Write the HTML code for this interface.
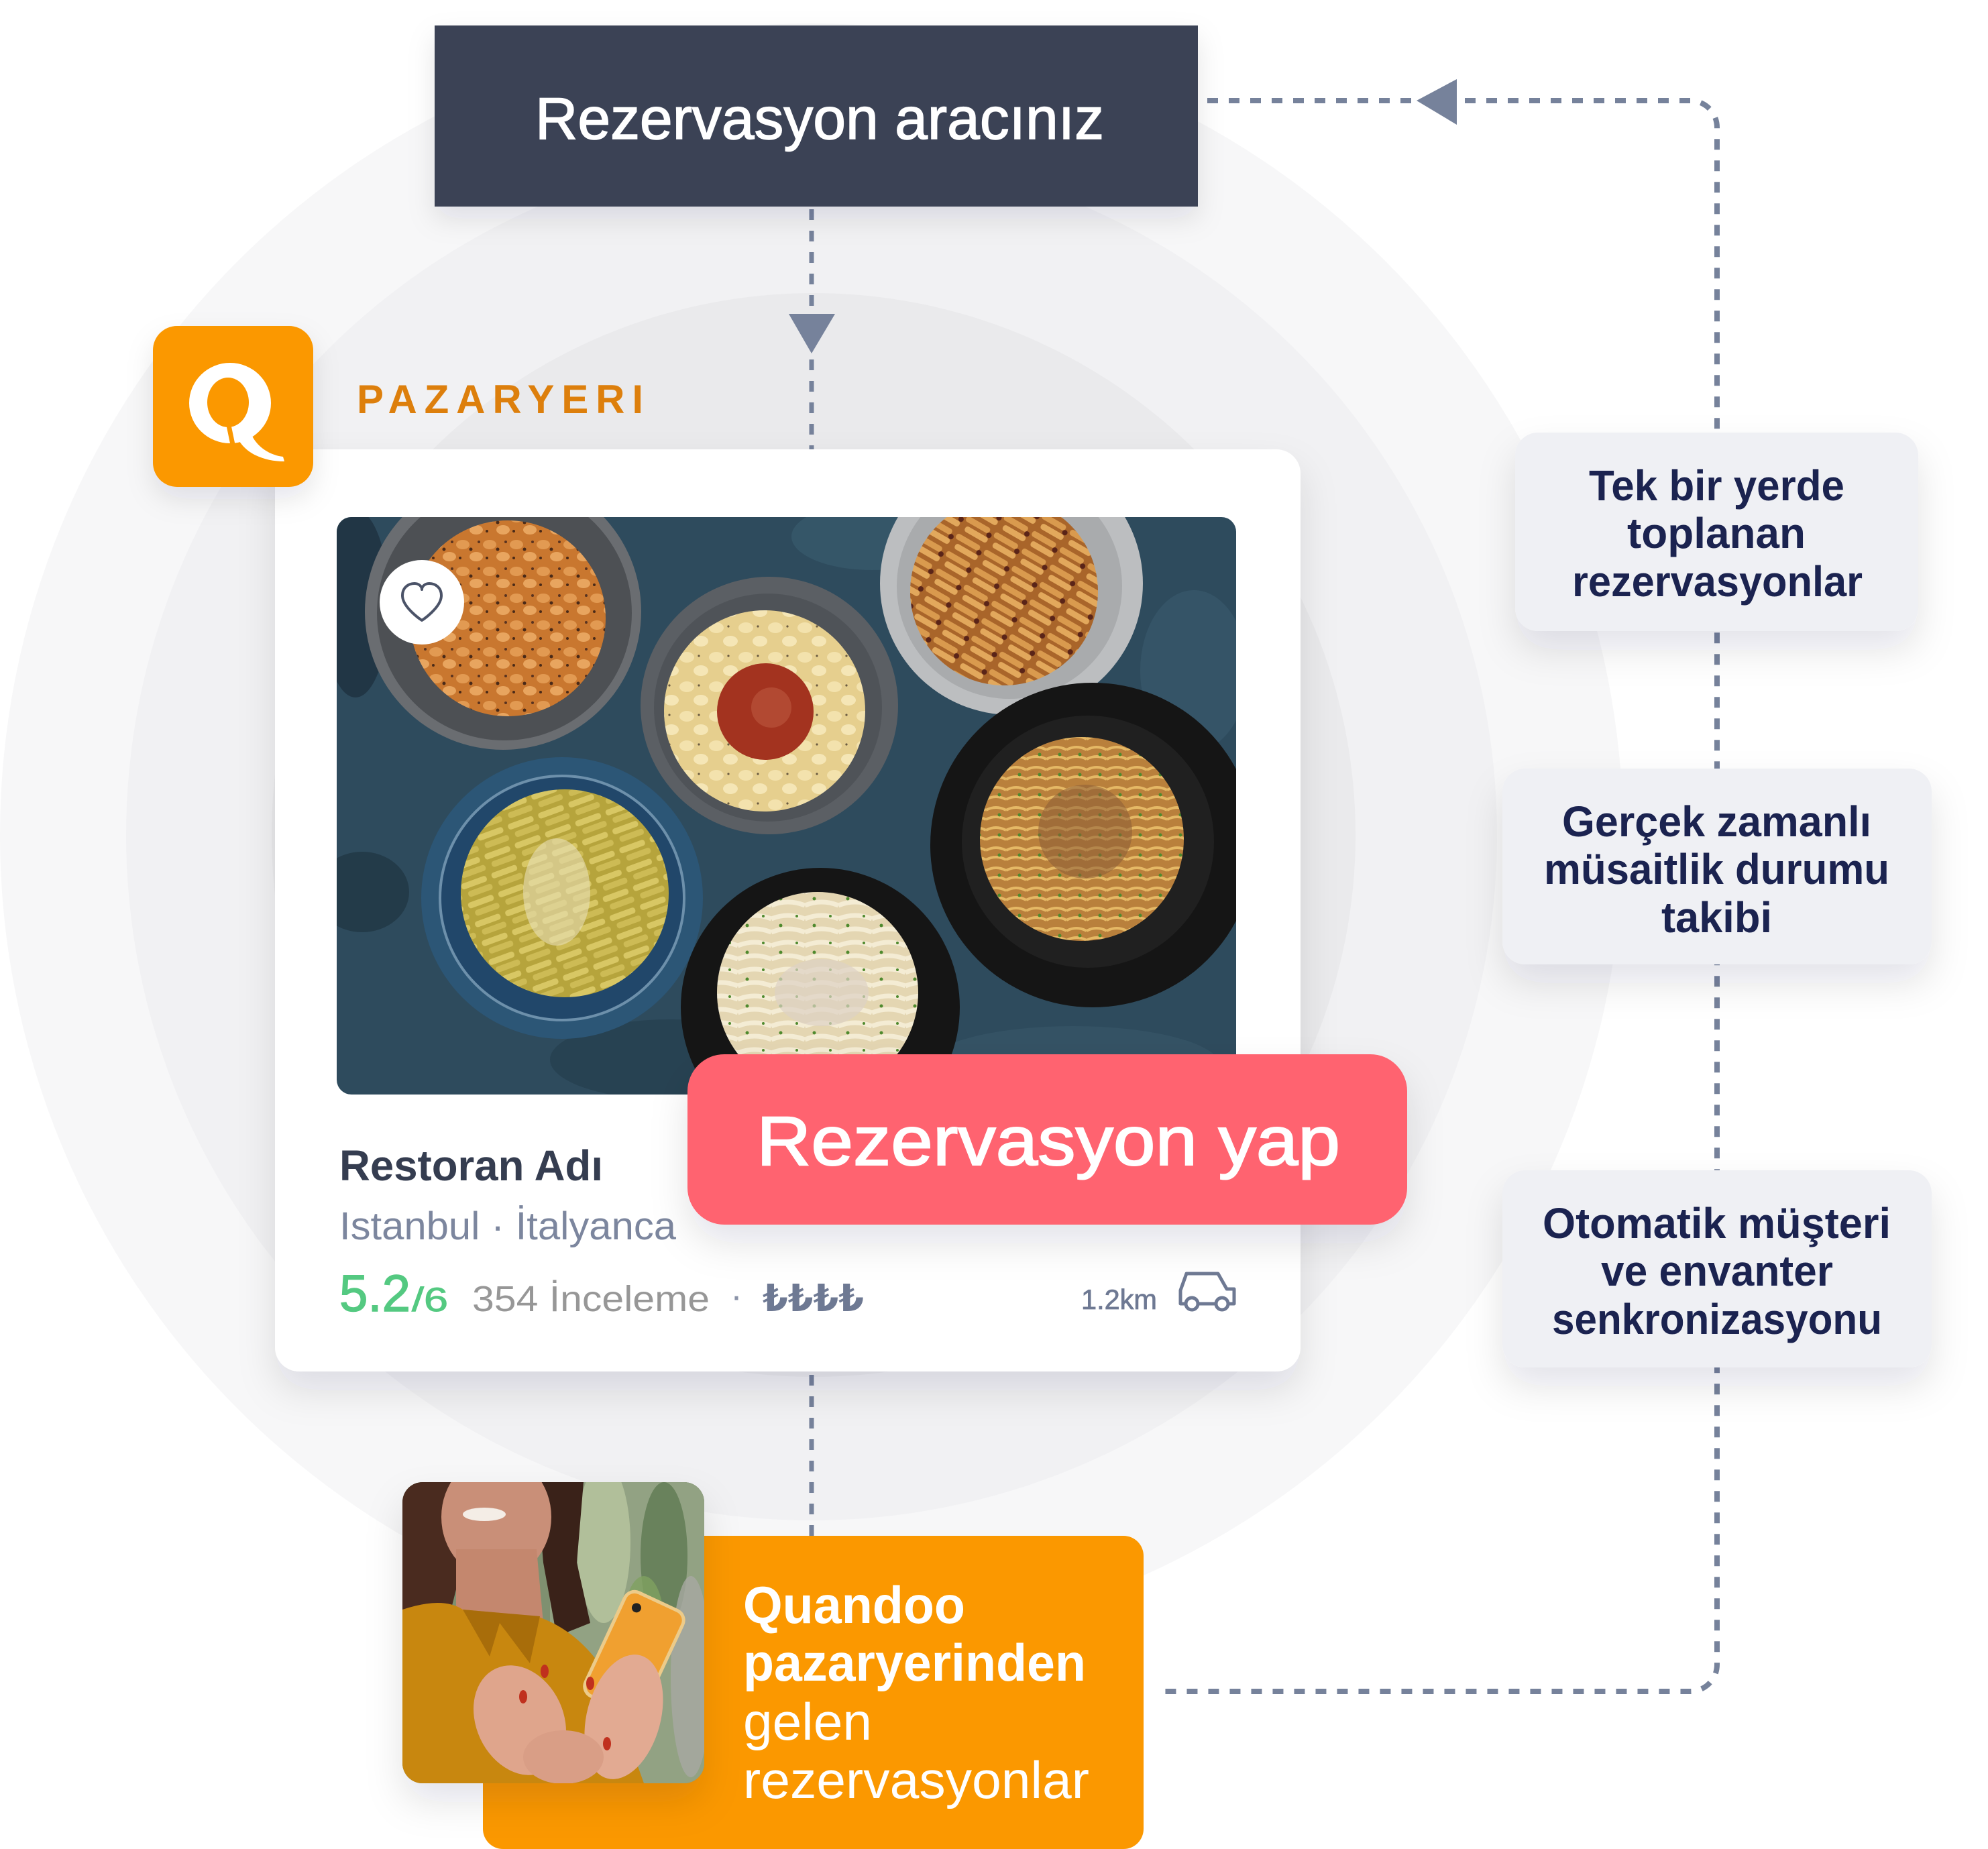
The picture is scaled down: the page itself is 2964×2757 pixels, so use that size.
<!DOCTYPE html>
<html><head><meta charset="utf-8">
<style>
html,body{margin:0;padding:0;background:#fff;}
svg{display:block;}
text{font-family:"Liberation Sans","DejaVu Sans",sans-serif;}
</style></head>
<body>
<svg width="2964" height="2757" viewBox="0 0 2964 2757" xmlns="http://www.w3.org/2000/svg">
<defs>
  <filter id="sh" x="-20%" y="-20%" width="140%" height="160%">
    <feDropShadow dx="0" dy="28" stdDeviation="28" flood-color="#1c2340" flood-opacity="0.11"/>
  </filter>
  <filter id="shs" x="-20%" y="-20%" width="140%" height="160%">
    <feDropShadow dx="0" dy="18" stdDeviation="20" flood-color="#1c2340" flood-opacity="0.10"/>
  </filter>
  <clipPath id="imgclip"><rect x="502" y="771" width="1341" height="861" rx="22"/></clipPath>
  <clipPath id="photoclip"><rect x="600" y="2210" width="450" height="449" rx="30"/></clipPath>
  <pattern id="pShell" width="40" height="40" patternUnits="userSpaceOnUse">
    <rect width="40" height="40" fill="#c9772f"/>
    <ellipse cx="10" cy="12" rx="10" ry="7" fill="#e29a52"/>
    <ellipse cx="30" cy="30" rx="10" ry="7" fill="#e8a55f"/>
    <circle cx="22" cy="19" r="2.5" fill="#4a2a18"/>
    <circle cx="6" cy="32" r="2" fill="#4a2a18"/>
    <circle cx="34" cy="8" r="2" fill="#5a3320"/>
  </pattern>
  <pattern id="pCream" width="44" height="44" patternUnits="userSpaceOnUse">
    <rect width="44" height="44" fill="#e6cf8e"/>
    <ellipse cx="12" cy="12" rx="11" ry="8" fill="#f3e2ad"/>
    <ellipse cx="33" cy="32" rx="11" ry="8" fill="#f5e6b6"/>
    <circle cx="30" cy="10" r="1.6" fill="#6a5a40"/>
  </pattern>
  <pattern id="pPenne" width="48" height="30" patternUnits="userSpaceOnUse" patternTransform="rotate(-20)">
    <rect width="48" height="30" fill="#b6a43c"/>
    <rect x="2" y="4" width="40" height="9" rx="4" fill="#d8c764"/>
    <rect x="8" y="18" width="38" height="9" rx="4" fill="#cdbb55"/>
  </pattern>
  <pattern id="pPenne2" width="48" height="30" patternUnits="userSpaceOnUse" patternTransform="rotate(30)">
    <rect width="48" height="30" fill="#a9652a"/>
    <rect x="2" y="4" width="40" height="9" rx="4" fill="#d99a4e"/>
    <rect x="8" y="18" width="38" height="9" rx="4" fill="#e2a85c"/>
    <circle cx="44" cy="14" r="4" fill="#5a2418"/>
  </pattern>
  <pattern id="pSpag" width="30" height="30" patternUnits="userSpaceOnUse">
    <rect width="30" height="30" fill="#b9803c"/>
    <path d="M0 8 Q15 0 30 8 M0 22 Q15 14 30 22" stroke="#e5b865" stroke-width="4" fill="none"/>
    <circle cx="20" cy="15" r="2.5" fill="#4f8a2e"/>
  </pattern>
  <pattern id="pTag" width="50" height="40" patternUnits="userSpaceOnUse">
    <rect width="50" height="40" fill="#e4d6b2"/>
    <path d="M0 10 Q25 0 50 10 M0 30 Q25 20 50 30" stroke="#f4ecd4" stroke-width="7" fill="none"/>
    <circle cx="14" cy="20" r="2.5" fill="#4f8a2e"/>
    <circle cx="38" cy="6" r="2" fill="#4f8a2e"/>
  </pattern>
</defs>

<!-- background circles -->
<circle cx="1210" cy="1245" r="1210" fill="#f7f7f8"/>
<circle cx="1210" cy="1245" r="1022" fill="#f1f1f3"/>
<circle cx="1213" cy="1245" r="808" fill="#eaeaec"/>

<!-- connectors -->
<g stroke="#76829b" fill="none" stroke-dasharray="16 16">
  <path d="M1800 150 H2520 A40 40 0 0 1 2560 190 V2482 A40 40 0 0 1 2520 2522 H1722" stroke-width="8"/>
  <path d="M1210 312 V670" stroke-width="7"/>
  <path d="M1210 2050 V2290" stroke-width="7"/>
</g>
<polygon points="2112,150 2172,118 2172,186" fill="#76829b"/>
<polygon points="1176,468 1245,468 1210,527" fill="#76829b"/>

<!-- top dark box -->
<rect x="648" y="38" width="1138" height="270" fill="#3b4354" filter="url(#shs)"/>
<text x="798" y="207" font-size="88" fill="#ffffff" stroke="#ffffff" stroke-width="1.5" textLength="848" lengthAdjust="spacingAndGlyphs">Rezervasyon aracınız</text>

<text x="532" y="616" font-size="60" font-weight="bold" fill="#dd7f0c" textLength="427" lengthAdjust="spacing">PAZARYERI</text>

<!-- card -->
<rect x="410" y="670" width="1529" height="1375" rx="36" fill="#ffffff" filter="url(#sh)"/>

<!-- Q logo (above card) -->
<rect x="228" y="486" width="239" height="240" rx="36" fill="#fb9800" filter="url(#shs)"/>
<ellipse cx="343" cy="601" rx="61" ry="60" fill="#ffffff"/>
<ellipse cx="340" cy="600" rx="31" ry="37" fill="#fb9800"/>
<path d="M341 634 L347 663" stroke="#fb9800" stroke-width="7"/>
<path d="M352 648 C362 675 392 688 424 688 L422 681 C398 678 378 662 372 640 Z" fill="#ffffff"/>

<!-- food image -->
<g clip-path="url(#imgclip)">
  <rect x="502" y="771" width="1341" height="861" fill="#2e4b5d"/>
  <ellipse cx="530" cy="900" rx="50" ry="140" fill="#1e3140" opacity="0.8"/>
  <ellipse cx="540" cy="1330" rx="70" ry="60" fill="#1f3442" opacity="0.7"/>
  <ellipse cx="1000" cy="1580" rx="180" ry="60" fill="#253f4f" opacity="0.7"/>
  <ellipse cx="1300" cy="800" rx="120" ry="50" fill="#3a5d70" opacity="0.6"/>
  <ellipse cx="1780" cy="1000" rx="80" ry="120" fill="#3b5e71" opacity="0.5"/>
  <ellipse cx="1600" cy="1590" rx="220" ry="60" fill="#3a5a6c" opacity="0.5"/>

  <!-- plate 1 -->
  <circle cx="750" cy="912" r="206" fill="#6a6d71"/>
  <circle cx="752" cy="914" r="190" fill="#4d5054"/>
  <circle cx="757" cy="922" r="146" fill="url(#pShell)"/>
  <!-- plate 2 -->
  <circle cx="1147" cy="1052" r="192" fill="#5b5f64"/>
  <circle cx="1145" cy="1055" r="170" fill="#4f5358"/>
  <circle cx="1140" cy="1060" r="150" fill="url(#pCream)"/>
  <circle cx="1141" cy="1061" r="72" fill="#a3331f"/>
  <circle cx="1150" cy="1055" r="30" fill="#b8523a" opacity="0.7"/>
  <!-- plate 3 -->
  <circle cx="1508" cy="870" r="196" fill="#bcbec0"/>
  <circle cx="1505" cy="874" r="168" fill="#a9abad"/>
  <circle cx="1497" cy="882" r="140" fill="url(#pPenne2)"/>
  <!-- plate 4 -->
  <circle cx="838" cy="1339" r="210" fill="#2c5676"/>
  <circle cx="838" cy="1339" r="182" fill="#21476a" stroke="#6d90ab" stroke-width="4"/>
  <circle cx="842" cy="1332" r="155" fill="url(#pPenne)"/>
  <ellipse cx="830" cy="1330" rx="50" ry="80" fill="#e7dfb8" opacity="0.6"/>
  <!-- plate 5 -->
  <circle cx="1629" cy="1260" r="242" fill="#151515"/>
  <circle cx="1622" cy="1255" r="188" fill="#202020"/>
  <circle cx="1613" cy="1251" r="152" fill="url(#pSpag)"/>
  <circle cx="1618" cy="1240" r="70" fill="#8c5d36" opacity="0.55"/>
  <!-- plate 6 -->
  <circle cx="1223" cy="1502" r="208" fill="#151515"/>
  <circle cx="1219" cy="1480" r="150" fill="url(#pTag)"/>
  <ellipse cx="1225" cy="1480" rx="70" ry="50" fill="#ddd2c4" opacity="0.7"/>
</g>

<!-- heart -->
<circle cx="629" cy="898" r="63" fill="#ffffff"/>
<path d="M629 925 C629 925 600 906 600 888 C600 876 609 870 618 870 C624 870 629 874 629 879 C629 874 634 870 640 870 C649 870 658 876 658 888 C658 906 629 925 629 925 Z" fill="none" stroke="#4b5368" stroke-width="4" stroke-linejoin="round"/>

<!-- card texts -->
<text x="506" y="1760" font-size="64" font-weight="bold" fill="#353d50" textLength="393" lengthAdjust="spacingAndGlyphs">Restoran Adı</text>
<text x="506" y="1848" font-size="58" fill="#7c869e" textLength="502" lengthAdjust="spacingAndGlyphs">Istanbul · İtalyanca</text>
<text x="506" y="1955" font-size="77" fill="#54c981" stroke="#54c981" stroke-width="1.5" textLength="106" lengthAdjust="spacingAndGlyphs">5.2</text>
<text x="614" y="1955" font-size="50" fill="#54c981" stroke="#54c981" stroke-width="1" textLength="54" lengthAdjust="spacingAndGlyphs">/6</text>
<text x="704" y="1955" font-size="54" fill="#979797" textLength="354" lengthAdjust="spacingAndGlyphs">354 İnceleme</text>
<text x="1089" y="1950" font-size="54" fill="#8a93a8">·</text>
<text x="1137" y="1955" font-size="56" font-weight="bold" fill="#6e7993" textLength="151" lengthAdjust="spacingAndGlyphs">₺₺₺₺</text>
<text x="1612" y="1952" font-size="42" fill="#6e7993" stroke="#6e7993" stroke-width="0.8" textLength="113" lengthAdjust="spacingAndGlyphs">1.2km</text>
<g fill="none" stroke="#6e7993" stroke-width="5" stroke-linejoin="round">
  <path d="M1766 1944 H1760 V1924 L1769 1899 H1816 L1829 1922 H1840 V1944 H1833 M1812 1944 H1788"/>
  <circle cx="1777" cy="1944" r="9"/>
  <circle cx="1822" cy="1944" r="9"/>
</g>

<!-- button -->
<rect x="1025" y="1572" width="1073" height="254" rx="55" fill="#ff6470" filter="url(#sh)"/>
<text x="1128" y="1737" font-size="104" fill="#ffffff" stroke="#ffffff" stroke-width="2" textLength="870" lengthAdjust="spacingAndGlyphs">Rezervasyon yap</text>

<!-- right boxes -->
<rect x="2259" y="645" width="601" height="296" rx="34" fill="#eff0f4" filter="url(#sh)"/>
<rect x="2240" y="1146" width="640" height="292" rx="34" fill="#eff0f4" filter="url(#sh)"/>
<rect x="2240" y="1745" width="640" height="294" rx="34" fill="#eff0f4" filter="url(#sh)"/>
<g font-size="64" font-weight="bold" fill="#1b2350">
  <text x="2369" y="746" textLength="381" lengthAdjust="spacingAndGlyphs">Tek bir yerde</text>
  <text x="2426" y="817" textLength="266" lengthAdjust="spacingAndGlyphs">toplanan</text>
  <text x="2344" y="889" textLength="433" lengthAdjust="spacingAndGlyphs">rezervasyonlar</text>
  <text x="2329" y="1247" textLength="461" lengthAdjust="spacingAndGlyphs">Gerçek zamanlı</text>
  <text x="2302" y="1318" textLength="515" lengthAdjust="spacingAndGlyphs">müsaitlik durumu</text>
  <text x="2477" y="1390" textLength="165" lengthAdjust="spacingAndGlyphs">takibi</text>
  <text x="2300" y="1846" textLength="519" lengthAdjust="spacingAndGlyphs">Otomatik müşteri</text>
  <text x="2387" y="1917" textLength="346" lengthAdjust="spacingAndGlyphs">ve envanter</text>
  <text x="2314" y="1989" textLength="492" lengthAdjust="spacingAndGlyphs">senkronizasyonu</text>
</g>

<!-- orange bottom box -->
<rect x="720" y="2290" width="985" height="467" rx="30" fill="#fb9800"/>
<text x="1108" y="2420" font-size="78" font-weight="bold" fill="#ffffff" textLength="331" lengthAdjust="spacingAndGlyphs">Quandoo</text>
<text x="1108" y="2506" font-size="78" font-weight="bold" fill="#ffffff" textLength="511" lengthAdjust="spacingAndGlyphs">pazaryerinden</text>
<text x="1108" y="2594" font-size="78" fill="#ffffff" textLength="192" lengthAdjust="spacingAndGlyphs">gelen</text>
<text x="1108" y="2681" font-size="78" fill="#ffffff" textLength="516" lengthAdjust="spacingAndGlyphs">rezervasyonlar</text>

<!-- photo -->
<rect x="600" y="2210" width="450" height="449" rx="30" fill="#8a9a7a" filter="url(#sh)"/>
<g clip-path="url(#photoclip)">
  <rect x="600" y="2210" width="450" height="449" fill="#7f9070"/>
  <rect x="820" y="2210" width="230" height="449" fill="#92a283"/>
  <ellipse cx="900" cy="2300" rx="40" ry="120" fill="#b9c7a0" opacity="0.8"/>
  <ellipse cx="990" cy="2320" rx="35" ry="110" fill="#5f7a52" opacity="0.8"/>
  <ellipse cx="1030" cy="2500" rx="30" ry="150" fill="#a7a9a3" opacity="0.8"/>
  <ellipse cx="960" cy="2420" rx="30" ry="70" fill="#7fa160" opacity="0.8"/>
  <!-- hair -->
  <path d="M600 2210 H700 L690 2330 L660 2450 L600 2470 Z" fill="#4a2b1f"/>
  <path d="M800 2210 H870 L860 2330 L880 2420 L830 2440 L810 2330 Z" fill="#3a2219"/>
  <!-- face & neck -->
  <ellipse cx="740" cy="2262" rx="82" ry="92" fill="#c98f78"/>
  <path d="M680 2310 L800 2310 L810 2420 L680 2420 Z" fill="#c4876e"/>
  <ellipse cx="722" cy="2258" rx="32" ry="10" fill="#f4ede6"/>
  <!-- shirt -->
  <path d="M600 2400 Q660 2380 690 2400 L800 2410 Q860 2430 900 2490 L960 2659 L600 2659 Z" fill="#c8870f"/>
  <path d="M690 2400 L730 2470 L745 2420 L790 2480 L805 2410 Z" fill="#a86d0a"/>
  <!-- phone -->
  <g transform="rotate(25 945 2465)">
    <rect x="898" y="2380" width="95" height="170" rx="16" fill="#f0a030" stroke="#eccb8a" stroke-width="5"/>
    <circle cx="920" cy="2402" r="7" fill="#222"/>
  </g>
  <!-- hands -->
  <ellipse cx="775" cy="2565" rx="65" ry="85" transform="rotate(-25 775 2565)" fill="#dfa58c"/>
  <ellipse cx="930" cy="2560" rx="55" ry="95" transform="rotate(15 930 2560)" fill="#e2aa92"/>
  <ellipse cx="840" cy="2620" rx="60" ry="40" fill="#d99e86"/>
  <ellipse cx="812" cy="2492" rx="6" ry="10" fill="#c0301e"/>
  <ellipse cx="780" cy="2530" rx="6" ry="10" fill="#c0301e"/>
  <ellipse cx="880" cy="2510" rx="6" ry="10" fill="#c0301e"/>
  <ellipse cx="905" cy="2600" rx="6" ry="10" fill="#c0301e"/>
</g>
</svg>
</body>
</html>
